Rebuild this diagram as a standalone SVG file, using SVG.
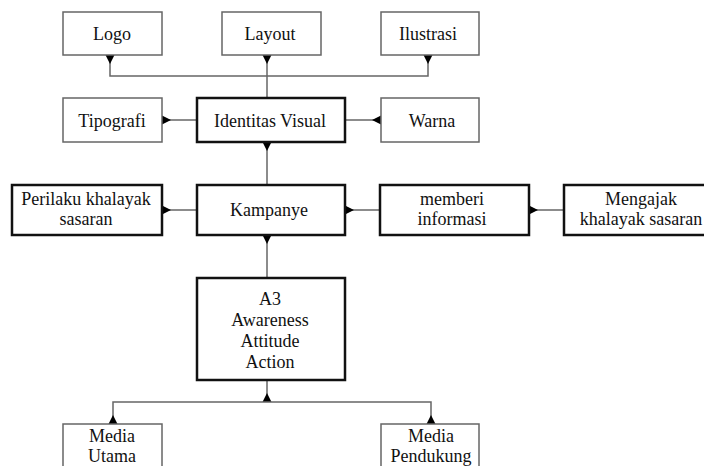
<svg xmlns="http://www.w3.org/2000/svg" width="704" height="466" viewBox="0 0 704 466">
<style>
.thin{fill:#fff;stroke:#666;stroke-width:1.5}
.thick{fill:#fff;stroke:#111;stroke-width:2.5}
.t{font-family:"Liberation Serif","Times New Roman",serif;font-size:18px;fill:#111;text-anchor:middle}
.c{fill:none;stroke:#666;stroke-width:1.5;marker-start:url(#tri)}
</style>
<defs>
<marker id="tri" markerUnits="userSpaceOnUse" markerWidth="10" markerHeight="10" refX="0" refY="5" orient="auto" overflow="visible">
<path d="M0,0.5 L9,5 L0,9.5 z" fill="#000"/>
</marker>
</defs>
<rect width="704" height="466" fill="#fff"/>
<g id="connectors">
<path class="c" d="M110,55 V76 H267"/>
<path class="c" d="M428,55 V76 H267"/>
<path class="c" d="M267,55 V98"/>
<path class="c" d="M162,120 H197"/>
<path class="c" d="M381,120 H345"/>
<path class="c" d="M267,142 V185"/>
<path class="c" d="M162,210 H197"/>
<path class="c" d="M345,210 H380"/>
<path class="c" d="M529,210 H564"/>
<path class="c" d="M267,235 V278"/>
<path class="c" d="M267,402 V380"/>
<path class="c" d="M113,424 V402 H267"/>
<path class="c" d="M431,424 V402 H267"/>
</g>
<g id="logo"><rect class="thin" x="63" y="12" width="99" height="43"/><text class="t" x="112" y="40">Logo</text></g>
<g id="layout"><rect class="thin" x="222" y="12" width="99" height="43"/><text class="t" x="270" y="40">Layout</text></g>
<g id="ilustrasi"><rect class="thin" x="381" y="12" width="98" height="43"/><text class="t" x="428" y="40">Ilustrasi</text></g>
<g id="tipografi"><rect class="thin" x="63" y="98" width="99" height="44"/><text class="t" x="112" y="127">Tipografi</text></g>
<g id="identitas"><rect class="thick" x="197" y="98" width="148" height="44"/><text class="t" x="270" y="127">Identitas Visual</text></g>
<g id="warna"><rect class="thin" x="381" y="98" width="98" height="44"/><text class="t" x="432" y="127">Warna</text></g>
<g id="perilaku"><rect class="thick" x="12" y="185" width="150" height="50"/><text class="t" x="86" y="205">Perilaku khalayak</text><text class="t" x="86" y="225">sasaran</text></g>
<g id="kampanye"><rect class="thick" x="197" y="185" width="148" height="50"/><text class="t" x="269" y="216">Kampanye</text></g>
<g id="memberi"><rect class="thick" x="380" y="185" width="149" height="50"/><text class="t" x="452" y="205">memberi</text><text class="t" x="452" y="225">informasi</text></g>
<g id="mengajak"><rect class="thick" x="564" y="185" width="152" height="50"/><text class="t" x="641" y="205">Mengajak</text><text class="t" x="641" y="225">khalayak sasaran</text></g>
<g id="a3"><rect class="thick" x="197" y="278" width="148" height="102"/>
<text class="t" x="270" y="305">A3</text><text class="t" x="270" y="326">Awareness</text><text class="t" x="270" y="347">Attitude</text><text class="t" x="270" y="368">Action</text></g>
<g id="media-utama"><rect class="thin" x="63" y="424" width="99" height="60"/><text class="t" x="112" y="442">Media</text><text class="t" x="112" y="462">Utama</text></g>
<g id="media-pendukung"><rect class="thin" x="381" y="424" width="98" height="60"/><text class="t" x="431" y="442">Media</text><text class="t" x="431" y="462">Pendukung</text></g>
</svg>
